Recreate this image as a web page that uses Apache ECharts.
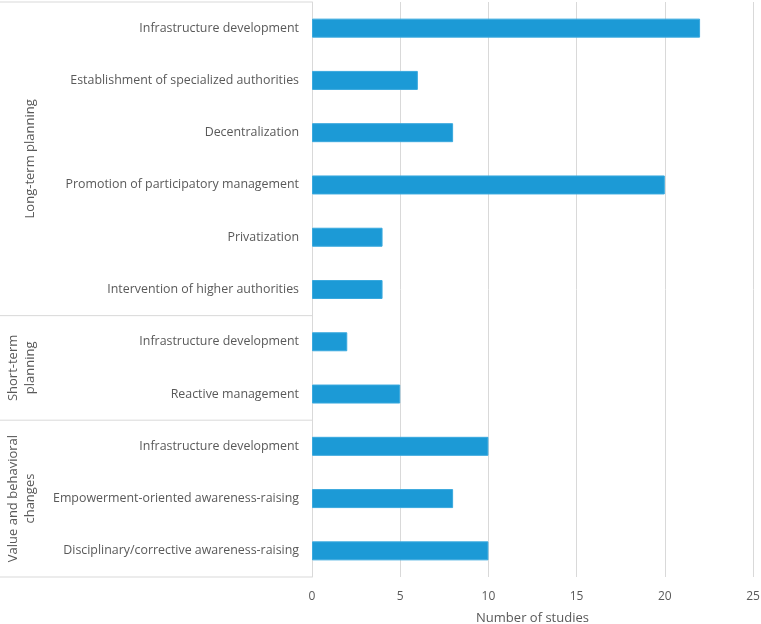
<!DOCTYPE html>
<html>
<head>
<meta charset="utf-8">
<script src="https://cdn.jsdelivr.net/npm/echarts@6/dist/echarts.min.js"></script>
<style>
html, body { margin: 0; padding: 0; background: #fff; }
#chart_container { width: 761px; height: 624px; }
</style>
</head>
<body>
<div id="chart_container"></div>
<script>
var categories = [
    'Infrastructure development',
    'Establishment of specialized authorities',
    'Decentralization',
    'Promotion of participatory management',
    'Privatization',
    'Intervention of higher authorities',
    'Infrastructure development',
    'Reactive management',
    'Infrastructure development',
    'Empowerment-oriented awareness-raising',
    'Disciplinary/corrective awareness-raising'
];
var studies = [22, 6, 8, 20, 4, 4, 2, 5, 10, 8, 10];
var groupNames = ['Long-term planning', 'Short-term\nplanning', 'Value and behavioral\nchanges'];
var groupSizes = [6, 2, 3];

var dom = document.getElementById('chart_container');
var myChart = echarts.init(dom);
var font = "'Open Sans', sans-serif";
var grey = '#595959';
var lineGrey = '#d9d9d9';

var option = {
    animation: false,
    grid: { left: 312, right: 8, top: 2, bottom: 47, outerBoundsMode: 'none' },
    xAxis: {
        type: 'value',
        min: 0,
        max: 25,
        interval: 5,
        axisLine: { show: false },
        axisTick: { show: false },
        splitLine: { lineStyle: { color: lineGrey } },
        axisLabel: { color: grey, fontSize: 12, fontFamily: font, margin: 14 },
        name: 'Number of studies',
        nameLocation: 'middle',
        nameGap: 35,
        nameTextStyle: { color: grey, fontSize: 13, fontFamily: font }
    },
    yAxis: {
        type: 'category',
        inverse: true,
        data: categories,
        axisLine: { lineStyle: { color: lineGrey } },
        axisTick: { show: false },
        axisLabel: { color: grey, fontSize: 12.4, fontFamily: font, margin: 13 }
    },
    series: [{
        type: 'bar',
        data: studies,
        barWidth: 19,
        itemStyle: { color: '#1c9ad6', borderColor: '#3aa9de', borderWidth: 1 }
    }]
};
myChart.setOption(option);

// group boxes on the left, placed from the category axis
var firstY = myChart.convertToPixel({ yAxisIndex: 0 }, 0);
var band = myChart.convertToPixel({ yAxisIndex: 0 }, 1) - firstY;
var axisX = myChart.convertToPixel({ xAxisIndex: 0 }, 0);
var labelX = [30, 22, 22];
var graphics = [];
var start = 0;
var edge = firstY - band / 2;
graphics.push({ type: 'line', shape: { x1: 0, y1: edge, x2: axisX, y2: edge }, style: { stroke: lineGrey, lineWidth: 1 } });
for (var i = 0; i < groupNames.length; i++) {
    var gTop = edge + start * band;
    var gBottom = gTop + groupSizes[i] * band;
    graphics.push({ type: 'line', shape: { x1: 0, y1: gBottom, x2: axisX, y2: gBottom }, style: { stroke: lineGrey, lineWidth: 1 } });
    graphics.push({
        type: 'text',
        x: labelX[i],
        y: (gTop + gBottom) / 2,
        rotation: Math.PI / 2,
        style: {
            text: groupNames[i],
            align: 'center',
            verticalAlign: 'middle',
            fill: grey,
            fontSize: 13,
            fontFamily: font,
            lineHeight: 17
        }
    });
    start += groupSizes[i];
}
myChart.setOption({ graphic: graphics });
</script>
</body>
</html>
